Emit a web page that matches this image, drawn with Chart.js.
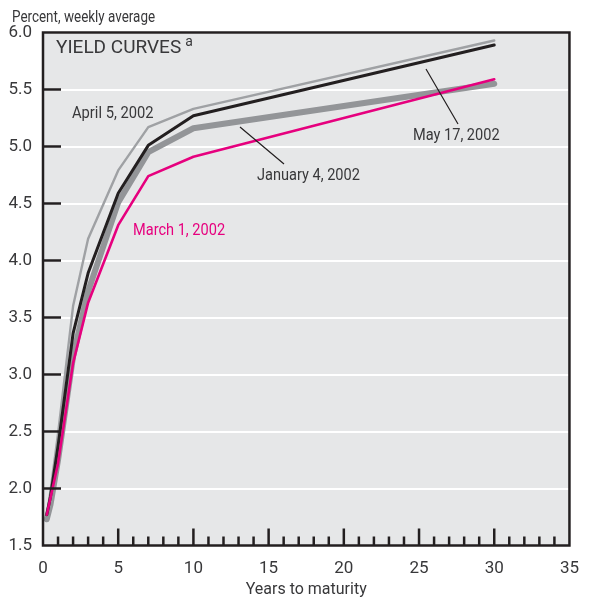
<!DOCTYPE html>
<html>
<head>
<meta charset="utf-8">
<title>Yield curves</title>
<script src="https://cdn.jsdelivr.net/npm/chart.js@4/dist/chart.umd.min.js"></script>
<style>
  body { margin: 0; background: #fff; }
  #wrap { width: 592px; height: 598px; position: relative; }
</style>
</head>
<body>
<div id="wrap"><canvas id="chart"></canvas></div>
<script>
// years to maturity of each point on the curves
var maturity = [0.25, 0.5, 1, 2, 3, 5, 7, 10, 30];
// weekly average yields, percent
var jan4  = [1.73, 1.86, 2.25, 3.16, 3.73, 4.51, 4.95, 5.16, 5.55];
var mar1  = [1.77, 1.92, 2.22, 3.10, 3.63, 4.31, 4.74, 4.91, 5.59];
var apr5  = [1.76, 1.98, 2.48, 3.60, 4.19, 4.79, 5.17, 5.33, 5.93];
var may17 = [1.77, 1.93, 2.37, 3.36, 3.89, 4.59, 5.01, 5.27, 5.89];
var xTicks = [0, 5, 10, 15, 20, 25, 30, 35];
var yTicks = [1.5, 2.0, 2.5, 3.0, 3.5, 4.0, 4.5, 5.0, 5.5, 6.0];

var FONT = "'Liberation Sans Narrow', 'Roboto', sans-serif";
var INK = '#231f20';
var TEXT = '#38383a';

function pts(ys) {
	var out = [];
	for (var i = 0; i < maturity.length; i++) out.push({x: maturity[i], y: ys[i]});
	return out;
}

// narrow text: squeeze horizontally
function narrow(ctx, text, x, y, sx) {
	ctx.save();
	ctx.translate(x, y);
	ctx.scale(sx, 1);
	ctx.fillText(text, 0, 0);
	ctx.restore();
}

var frame = {
	id: 'frame',
	beforeDraw: function(chart) {
		var a = chart.chartArea, ctx = chart.ctx;
		ctx.save();
		ctx.fillStyle = '#e6e7e8';
		ctx.fillRect(a.left, a.top, a.right - a.left, a.bottom - a.top);
		ctx.restore();
	},
	afterDraw: function(chart) {
		var a = chart.chartArea, ctx = chart.ctx;
		var xs = chart.scales.x, ys = chart.scales.y;
		ctx.save();
		ctx.strokeStyle = INK;
		ctx.lineWidth = 2.5;
		ctx.strokeRect(a.left, a.top, a.right - a.left, a.bottom - a.top);

		// inward ticks on the left axis
		for (var i = 1; i < yTicks.length - 1; i++) {
			var py = ys.getPixelForValue(yTicks[i]);
			ctx.beginPath();
			ctx.moveTo(a.left, py);
			ctx.lineTo(a.left + 18, py);
			ctx.stroke();
		}
		// inward ticks on the bottom axis, one per year
		for (var yr = 1; yr < 35; yr++) {
			var px = xs.getPixelForValue(yr);
			var len = (yr % 5 == 0) ? 17 : 9;
			ctx.beginPath();
			ctx.moveTo(px, a.bottom);
			ctx.lineTo(px, a.bottom - len);
			ctx.stroke();
		}

		// leader lines
		ctx.lineWidth = 1.2;
		ctx.beginPath();
		ctx.moveTo(240, 127); ctx.lineTo(284, 164);
		ctx.moveTo(426, 69); ctx.lineTo(458, 124);
		ctx.stroke();

		// labels
		ctx.textBaseline = 'middle';
		ctx.textAlign = 'left';
		ctx.font = '16px ' + FONT;
		ctx.fillStyle = TEXT;
		narrow(ctx, 'Percent, weekly average', 12, 18, 0.84);
		narrow(ctx, 'April 5, 2002', 72, 114, 0.92);
		narrow(ctx, 'January 4, 2002', 257, 176, 0.91);
		narrow(ctx, 'May 17, 2002', 413, 136, 0.91);
		ctx.fillStyle = '#e6007e';
		narrow(ctx, 'March 1, 2002', 133, 231, 0.91);

		ctx.fillStyle = TEXT;
		ctx.font = '19px ' + FONT;
		ctx.fillText('YIELD CURVES', 56, 48);
		var w = ctx.measureText('YIELD CURVES').width;
		ctx.font = '14px ' + FONT;
		ctx.fillText('a', 56 + w + 4, 42);
		ctx.restore();
	}
};

function line(label, ys, color, width, order) {
	return {
		label: label,
		data: pts(ys),
		borderColor: color,
		borderWidth: width,
		pointRadius: 0,
		tension: 0,
		borderJoinStyle: 'round',
		borderCapStyle: 'round',
		order: order
	};
}

new Chart(document.getElementById('chart'), {
	type: 'line',
	data: {
		datasets: [
			line('March 1, 2002', mar1, '#e6007e', 2.6, 0),
			line('May 17, 2002', may17, INK, 3, 1),
			line('April 5, 2002', apr5, '#9fa1a4', 2.4, 2),
			line('January 4, 2002', jan4, '#939598', 6, 3)
		]
	},
	options: {
		responsive: true,
		maintainAspectRatio: false,
		animation: false,
		layout: { padding: { top: 32.5, right: 19, left: 0, bottom: 0 } },
		plugins: { legend: { display: false }, tooltip: { enabled: false } },
		scales: {
			x: {
				type: 'linear',
				min: 0, max: 35,
				afterBuildTicks: function(s) { s.ticks = xTicks.map(function(v) { return {value: v}; }); },
				afterFit: function(s) { s.height = 52.5; },
				grid: { display: false, drawTicks: false },
				border: { display: false },
				ticks: { color: TEXT, font: { family: FONT, size: 17 }, padding: 13, maxRotation: 0 },
				title: { display: true, text: 'Years to maturity', color: TEXT, font: { family: FONT, size: 16 }, padding: { top: 0, bottom: -2 } }
			},
			y: {
				min: 1.5, max: 6.0,
				afterBuildTicks: function(s) { s.ticks = yTicks.map(function(v) { return {value: v}; }); },
				afterFit: function(s) { s.width = 43; },
				grid: { color: '#ffffff', lineWidth: 2, drawTicks: false },
				border: { display: false },
				ticks: {
					color: TEXT, font: { family: FONT, size: 17 }, padding: 11,
					callback: function(v) { return Number(v).toFixed(1); }
				}
			}
		}
	},
	plugins: [frame]
});
</script>
</body>
</html>
